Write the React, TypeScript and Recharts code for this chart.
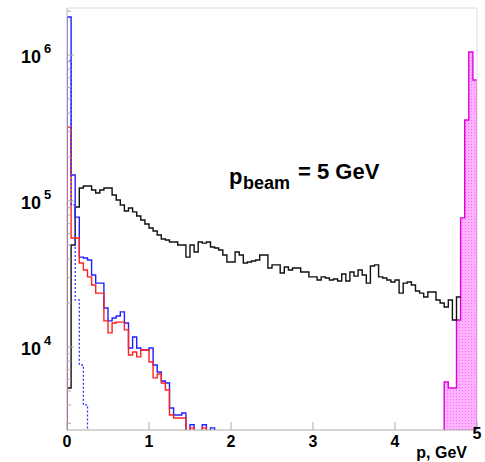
import React from 'react'
import { ComposedChart, Line, Area, XAxis, YAxis, ReferenceLine } from 'recharts'

// histogram bins are 0.05 GeV wide
const binWidth = 0.05
const yMin = 2700
const yMax = 2.1e6
// empty bins sit below the visible axis range
const belowAxis = 100

const xTicks = [0, 1, 2, 3, 4, 5]
const yMajorTicks = [1e4, 1e5, 1e6]
const yMinorTicks = [3000, 4000, 5000, 6000, 7000, 8000, 9000, 20000, 30000, 40000, 50000, 60000, 70000, 80000, 90000,
  200000, 300000, 400000, 500000, 600000, 700000, 800000, 900000, 2000000]

// all tracks, bins from 0 to 4.80 GeV
const blackCounts = [
  5240, 50000, 91000, 122700, 126700, 126700, 119000, 113400, 119000, 122700,
  122700, 110000, 101600, 94000, 85500, 89600, 84200, 78900, 74100, 69600,
  65300, 62300, 58500, 54900, 54100, 52400, 52400, 50000, 50000, 41300,
  50000, 44700, 52400, 51500, 52400, 48400, 47700, 46200, 42700, 38200,
  38200, 44700, 42700, 37600, 38200, 38800, 39400, 42700, 42700, 34800,
  36500, 36500, 32100, 35300, 33700, 34800, 34800, 32600, 32600, 30200,
  30200, 28800, 30200, 29700, 28800, 29200, 28300, 31600, 28300, 32600,
  30600, 33700, 31100, 27400, 35900, 36500, 30200, 29700, 28800, 27900,
  28800, 23400, 27400, 27900, 26600, 24200, 23400, 22000, 23800, 23800,
  21000, 20000, 18800, 21000, 15300, 22000,
]
const blueCounts = [
  1820000, 150700, 77600, 41300, 40700, 39400, 31100, 27400, 27400, 18500,
  15100, 15800, 16300, 17400, 14600, 9840, 11700, 9840, 9540, 9540,
  9840, 7530, 6740, 5850, 5670, 3820, 3420, 3420, 3530, 0,
  2930, 0, 0, 2930, 0, 2790,
]
const redCounts = [
  321000, 55800, 55800, 37600, 33700, 30200, 26600, 23400, 23400, 15100,
  12500, 14600, 14800, 14800, 13100, 8820, 9250, 8550, 9540, 9540,
  7890, 6140, 6530, 5670, 5070, 3420, 3260, 3260, 3260, 0,
  2790, 0, 0, 2790,
]
const blueDashCounts = [910000, 94000, 21000, 7530, 4010]
const elasticStart = 4.6
const elasticCounts = [5760, 5240, 5240, 15300, 76600, 359000, 1050000, 675000]

function steps(counts: number[], start: number, dropAtEnd = true) {
  const pts = [{ x: start, v: belowAxis }]
  counts.forEach((c, i) => pts.push({ x: +(start + i * binWidth).toFixed(3), v: c > 0 ? c : belowAxis }))
  const end = +(start + counts.length * binWidth).toFixed(3)
  const last = counts[counts.length - 1]
  pts.push({ x: end, v: last > 0 ? last : belowAxis })
  if (dropAtEnd) pts.push({ x: end, v: belowAxis })
  return pts
}

const font = '"Liberation Sans", Arial, sans-serif'

function YTick(props: any) {
  const { x, y, payload } = props
  const v = payload.value
  const exp = Math.round(Math.log10(v))
  const major = yMajorTicks.includes(v)
  return (
    <g>
      <line x1={x} x2={x + (major ? 7 : 4)} y1={y} y2={y} stroke="#aaa" />
      {major && (
        <text x={21} y={y + 8} fontSize={18} fontWeight="bold" fill="#000" fontFamily={font}>
          10<tspan dx={3} dy={-10} fontSize={13}>{exp}</tspan>
        </text>
      )}
    </g>
  )
}

function XTick(props: any) {
  const { x, y, payload } = props
  const last = payload.value === 5
  return (
    <g>
      <line x1={x} x2={x} y1={y} y2={y - 8} stroke="#aaa" />
      <text x={x} y={last ? y + 9 : y + 17} textAnchor="middle" fontSize={16} fontWeight="bold"
        fill="#000" fontFamily={font}>
        {payload.value}
      </text>
    </g>
  )
}

export default function App() {
  const black = steps(blackCounts, 0, false)
  const blue = steps(blueCounts, 0)
  const red = steps(redCounts, 0)
  const blueDash = steps(blueDashCounts, 0)
  const elastic = steps(elasticCounts, elasticStart)

  return (
    <div style={{ position: 'absolute', left: 0, top: 0, width: 485, height: 462, background: '#fff' }}>
      <ComposedChart width={485} height={462} margin={{ top: 8, right: 8, left: 0, bottom: 0 }}>
        <defs>
          <pattern id="dots" width="3" height="3" patternUnits="userSpaceOnUse">
            <rect width="3" height="3" fill="#ffb4ff" />
            <rect width="1" height="1" fill="#ff66ff" />
          </pattern>
        </defs>
        <XAxis type="number" dataKey="x" domain={[0, 5]} ticks={xTicks} interval={0} allowDataOverflow
          height={32} tickSize={0} tickMargin={0} tick={<XTick />} axisLine={{ stroke: '#aaa' }} tickLine={false} />
        <YAxis type="number" scale="log" domain={[yMin, yMax]} allowDataOverflow width={67}
          ticks={[...yMajorTicks, ...yMinorTicks]} interval={0} tickSize={0} tickMargin={0}
          tick={<YTick />} axisLine={{ stroke: '#bbb' }} tickLine={false} />
        <ReferenceLine x={5} stroke="#ddd" />
        <ReferenceLine y={yMax} stroke="#ddd" />
        <Line data={black} dataKey="v" type="stepAfter" stroke="#111" strokeWidth={1.4} dot={false} isAnimationActive={false} />
        <Line data={blue} dataKey="v" type="stepAfter" stroke="#2020ff" strokeWidth={1.4} dot={false} isAnimationActive={false} />
        <Line data={red} dataKey="v" type="stepAfter" stroke="#ff2020" strokeWidth={1.4} dot={false} isAnimationActive={false} />
        <Line data={blueDash} dataKey="v" type="stepAfter" stroke="#3030ff" strokeWidth={1.3} strokeDasharray="2 2" dot={false} isAnimationActive={false} />
        <Area data={elastic} dataKey="v" type="stepAfter" stroke="#e000e0" strokeWidth={1.4} fill="url(#dots)" fillOpacity={1} isAnimationActive={false} />
      </ComposedChart>
      <svg width={485} height={462} style={{ position: 'absolute', left: 0, top: 0, pointerEvents: 'none' }}>
        <text x={229} y={184} fontSize={22} fontWeight="bold" fill="#000" fontFamily={font}>p</text>
        <text x={243} y={189} fontSize={18} fontWeight="bold" fill="#000" fontFamily={font}>beam</text>
        <text x={298} y={179} fontSize={22} fontWeight="bold" fill="#000" fontFamily={font}>= 5 GeV</text>
        <text x={467} y={458} textAnchor="end" fontSize={16} fontWeight="bold" fill="#000" fontFamily={font}>p, GeV</text>
      </svg>
    </div>
  )
}
